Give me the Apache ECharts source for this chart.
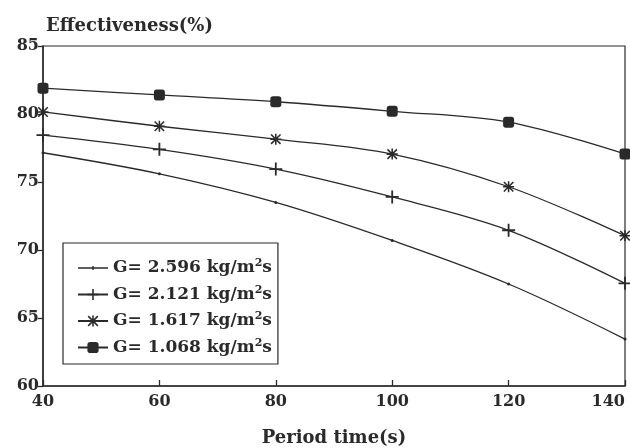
<!DOCTYPE html>
<html>
<head>
<meta charset="utf-8">
<script src="https://cdn.jsdelivr.net/npm/echarts@6/dist/echarts.min.js"></script>
<style>html,body{margin:0;padding:0;background:#fff;}#c{width:630px;height:448px;}</style>
</head>
<body>
<div id="c"></div>
<script>
var periods = [40, 60, 80, 100, 120, 140];
var seriesNames = ['2.596', '2.121', '1.617', '1.068'];
var g2596 = [77.15, 75.6, 73.5, 70.7, 67.5, 63.45];
var g2121 = [78.45, 77.4, 75.95, 73.9, 71.45, 67.55];
var g1617 = [80.15, 79.1, 78.15, 77.05, 74.65, 71.05];
var g1068 = [81.9, 81.4, 80.9, 80.2, 79.4, 77.05];
var yTicks = [60, 65, 70, 75, 80, 85];
var xTicks = [40, 60, 80, 100, 120, 140];

var FONT = 'DejaVu Serif';
var INK = '#2a2a2a';
var plusPath = 'path://M4.3,0H5.7V4.3H10V5.7H5.7V10H4.3V5.7H0V4.3H4.3Z';
var starPath = 'path://M4.3,0H5.7V10H4.3Z M0,4.3H10V5.7H0Z M1.2,0.2L9.8,8.8L8.8,9.8L0.2,1.2Z M8.8,0.2L9.8,1.2L1.2,9.8L0.2,8.8Z';
var tickLegendIcon = 'path://M0,1.2H30V2.8H0Z M14.3,0H15.7V4H14.3Z';

function pairs(vals) { return periods.map(function (p, i) { return [p, vals[i]]; }); }
var allVals = [g2596, g2121, g1617, g1068];
var symbols = ['circle', plusPath, starPath, 'roundRect'];
var sizes = [3, 13, 11, 11];

var legendData = seriesNames.map(function (n, i) {
  var d = {name: 'G= ' + n};
  if (i === 0) d.icon = tickLegendIcon;
  return d;
});

var chart = echarts.init(document.getElementById('c'), null, {renderer: 'canvas'});
chart.setOption({
  backgroundColor: '#fff',
  animation: false,
  grid: {left: 43, right: 5, top: 46, bottom: 62, outerBoundsMode: 'none', containLabel: false,
    show: true, borderColor: INK, borderWidth: 1.2, backgroundColor: 'transparent'},
  title: {
    text: 'Effectiveness(%)', left: 41, top: 12,
    textStyle: {fontFamily: FONT, fontWeight: 'bold', fontSize: 18, color: INK}
  },
  legend: {
    orient: 'vertical', left: 63, top: 243,
    padding: [15, 6, 8, 14], itemGap: 8,
    itemWidth: 30, itemHeight: 14,
    borderColor: INK, borderWidth: 1.2,
    symbolKeepAspect: true,
    data: legendData,
    formatter: function (name) { return '{t|' + name + ' kg/m}{s|2}{t|s}'; },
    textStyle: {
      fontFamily: FONT, fontWeight: 'bold', fontSize: 17, color: INK,
      rich: {
        t: {fontFamily: FONT, fontWeight: 'bold', fontSize: 17, color: INK},
        s: {fontFamily: FONT, fontWeight: 'bold', fontSize: 11, color: INK, verticalAlign: 'bottom', padding: [0, 0, 9, 0]}
      }
    }
  },
  xAxis: {
    type: 'value', min: 40, max: 140, interval: 20,
    name: 'Period time(s)', nameLocation: 'middle', nameGap: 43,
    nameTextStyle: {fontFamily: FONT, fontWeight: 'bold', fontSize: 18, color: INK},
    axisLine: {lineStyle: {color: INK, width: 1.5}},
    axisTick: {inside: true, length: 6, lineStyle: {color: INK, width: 1.3}},
    splitLine: {show: false},
    axisLabel: {fontFamily: FONT, fontWeight: 'bold', fontSize: 16, color: INK, margin: 8, alignMaxLabel: 'right',
      customValues: xTicks}
  },
  yAxis: {
    type: 'value', min: 60, max: 85, interval: 5,
    axisLine: {show: true, lineStyle: {color: INK, width: 1.5}},
    axisTick: {show: true, inside: false, length: 5, lineStyle: {color: INK, width: 1.3}},
    splitLine: {show: false},
    axisLabel: {fontFamily: FONT, fontWeight: 'bold', fontSize: 16, color: INK, margin: 4}
  },
  series: seriesNames.map(function (n, i) {
    return {
      name: 'G= ' + n, type: 'line', smooth: 0.35,
      data: pairs(allVals[i]),
      symbol: symbols[i], symbolSize: sizes[i], showSymbol: true, symbolKeepAspect: true,
      lineStyle: {color: INK, width: 1.3},
      itemStyle: {color: INK}
    };
  })
});
</script>
</body>
</html>
